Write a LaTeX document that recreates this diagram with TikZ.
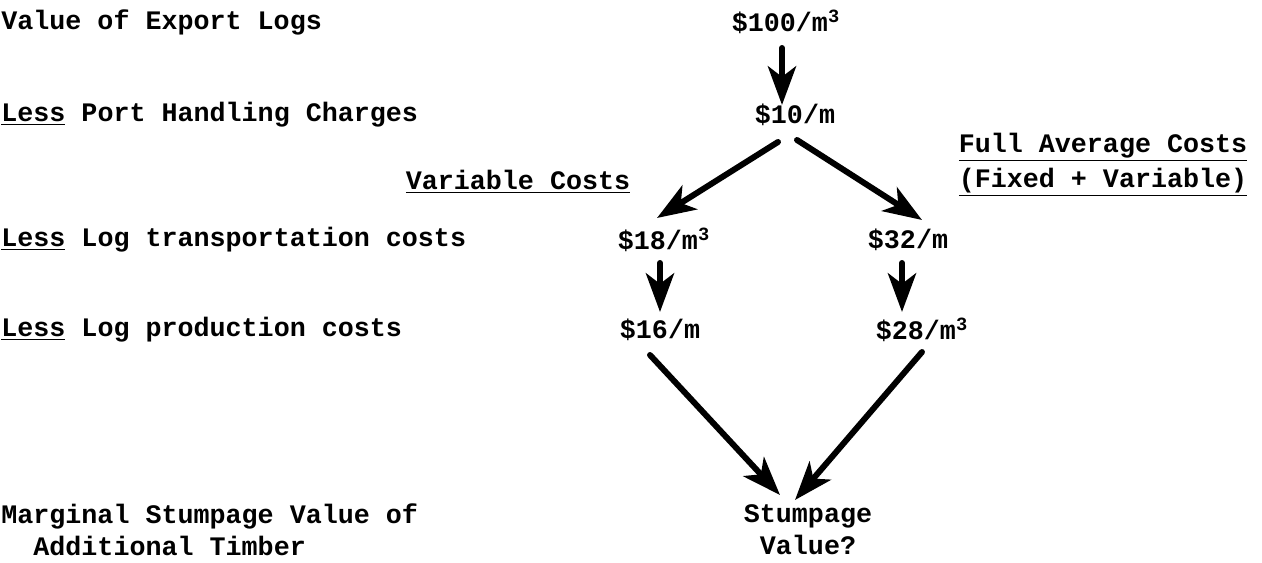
\documentclass[tikz,border=0pt]{standalone}
\usepackage{fontspec}
\setmainfont{Liberation Mono}
\usetikzlibrary{arrows.meta, positioning, calc}

\begin{document}
\begin{tikzpicture}[x=0.02cm, y=-0.02cm,
    font=\fontsize{15.2}{18}\selectfont\bfseries,
    lbl/.style={anchor=west, align=left, inner sep=0pt},
    val/.style={inner sep=2pt},
    arrow/.style={-{Stealth[length=22pt, width=16pt, inset=6pt]}, line width=3.4pt, line cap=round}
]
    \useasboundingbox (0,0) rectangle (1262,563);
    % row labels
    \node[lbl] (r1) at (1,22) {Value of Export Logs};
    \node[lbl] (r2) at (1,115) {\underline{Less} Port Handling Charges};
    \node[lbl] (r3) at (1,240) {\underline{Less} Log transportation costs};
    \node[lbl] (r4) at (1,330) {\underline{Less} Log production costs};
    \node[lbl] (r5) at (1,530) {Marginal Stumpage Value of\\\ \ Additional Timber};
    % column headings
    \node[inner sep=0pt] (hvar) at (518,182) {\underline{Variable Costs}};
    \node[inner sep=0pt, align=center] (hfull) at (1103,165) {\underline{Full Average Costs}\\[2pt]\underline{(Fixed + Variable)}};
    % values
    \node[val] (v100) at (786,22) {\$100/m\textsuperscript{3}};
    \node[val] (v10) at (795,115) {\$10/m};
    \node[val] (v18) at (664,240) {\$18/m\textsuperscript{3}};
    \node[val] (v32) at (908,240) {\$32/m};
    \node[val] (v16) at (660,330) {\$16/m};
    \node[val] (v28) at (922,330) {\$28/m\textsuperscript{3}};
    \node[align=center, inner sep=2pt] (stump) at (808,530) {Stumpage\\Value?};
    % arrows (offsets in px from the node centres)
    \draw[arrow] ($(v100)+(-4,26)$) -- ($(v10)+(-13,-10)$);
    \draw[arrow] ($(v10)+(-17,27)$) -- ($(v18)+(-7,-22)$);
    \draw[arrow] ($(v10)+(2,25)$) -- ($(v32)+(14,-20)$);
    \draw[arrow] ($(v18)+(-4,23)$) -- ($(v16)+(0,-18)$);
    \draw[arrow] ($(v32)+(-6,23)$) -- ($(v28)+(-20,-18)$);
    \draw[arrow] ($(v16)+(-10,25)$) -- ($(stump)+(-28,-35)$);
    \draw[arrow] ($(v28)+(0,22)$) -- ($(stump)+(-13,-30)$);
\end{tikzpicture}
\end{document}
